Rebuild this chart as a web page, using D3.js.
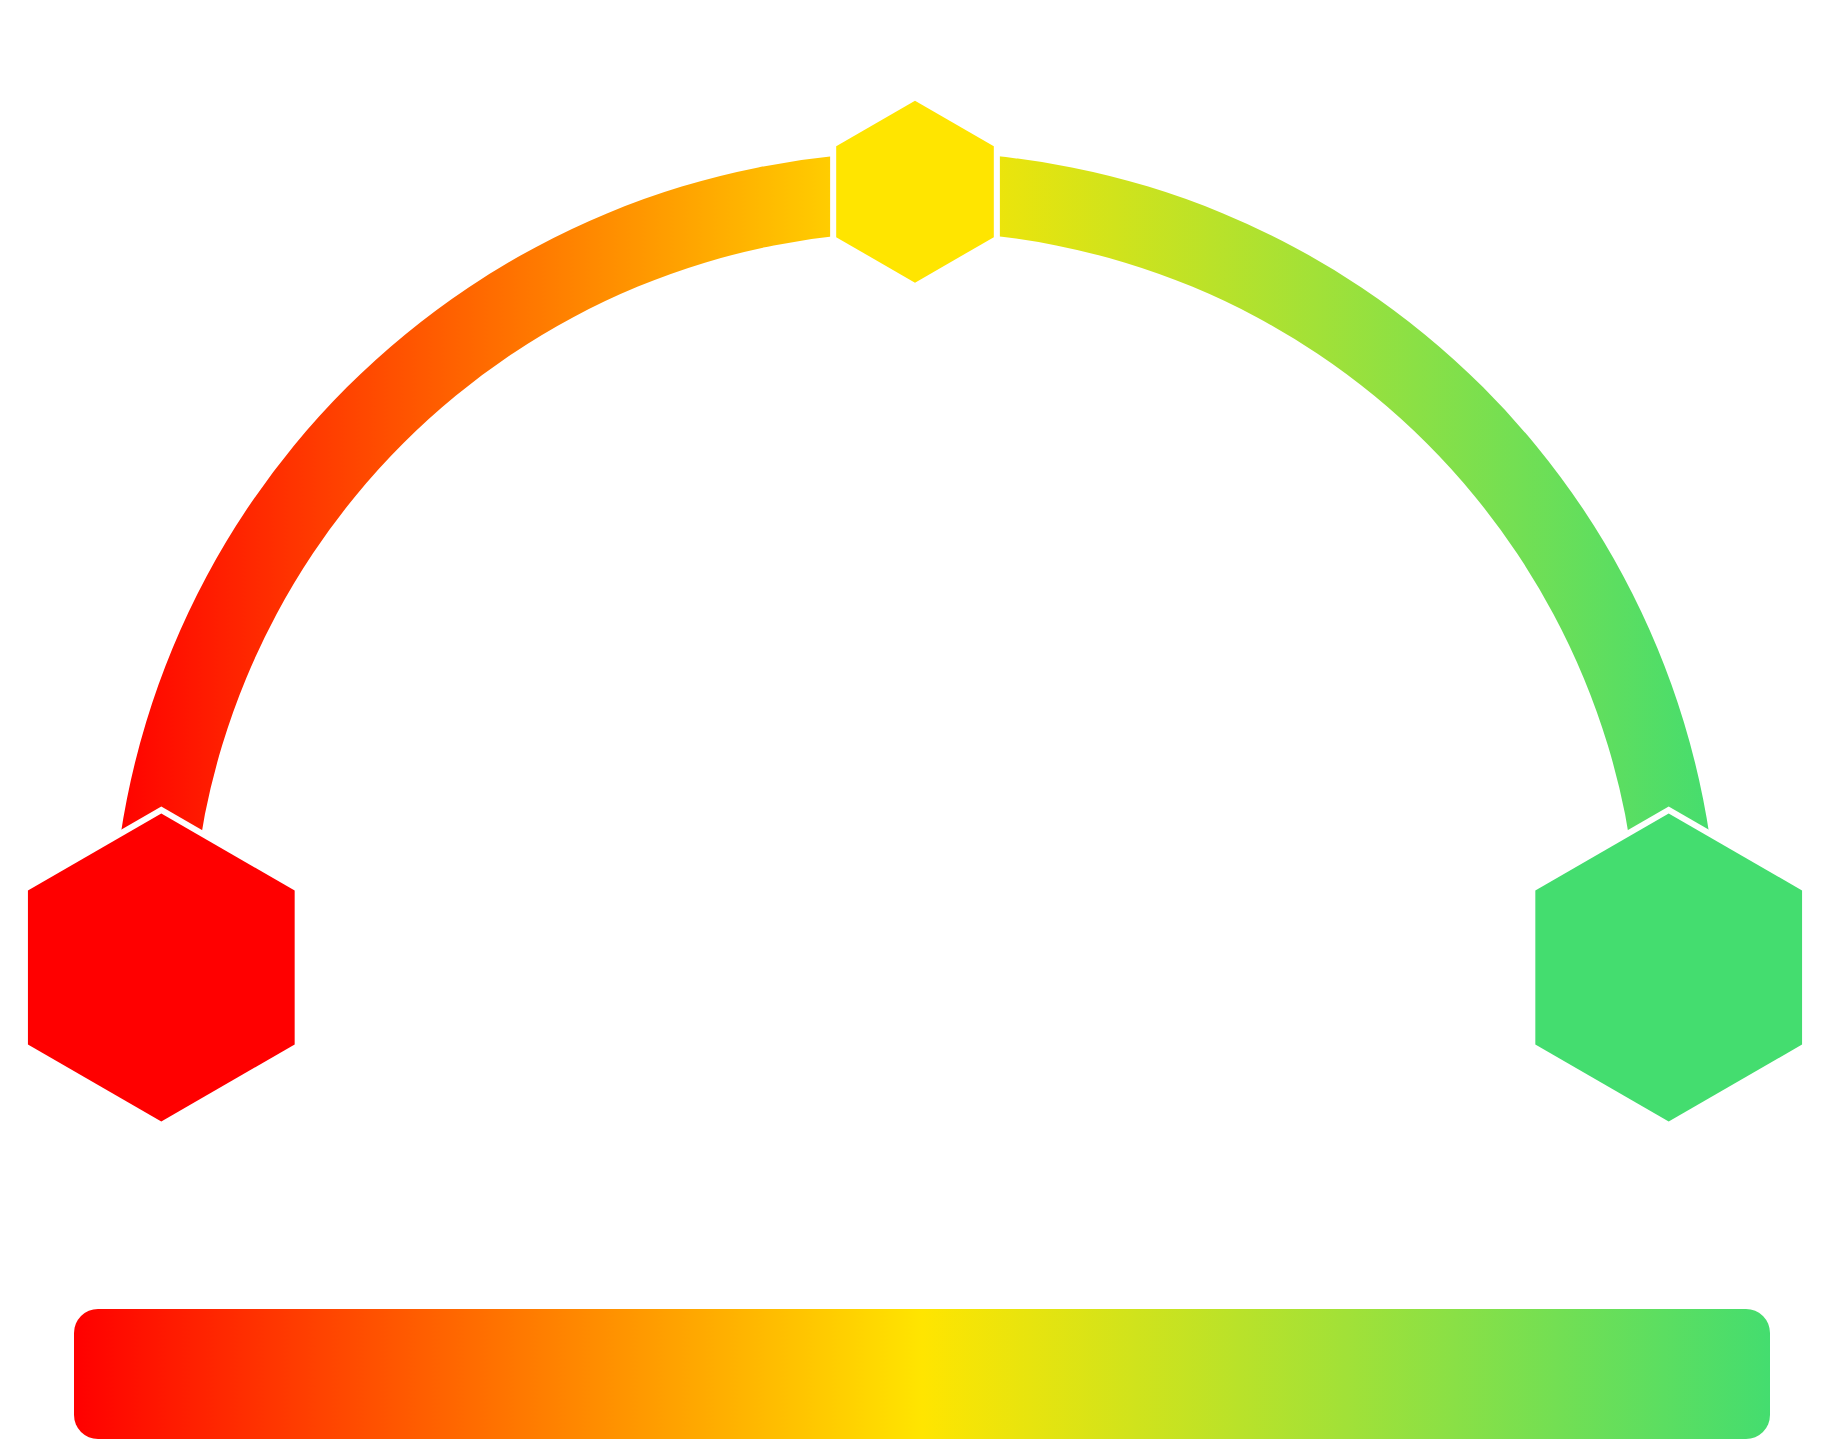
<!DOCTYPE html>
<html>
<head>
<meta charset="utf-8">
<script src="https://cdn.jsdelivr.net/npm/d3@7"></script>
<style>
  body { margin: 0; background: #fff; }
  svg { display: block; }
</style>
</head>
<body>
<div id="chart"></div>
<script>
// gauge levels
const levels = ['Low', 'Medium', 'High'];
const level_values = [0, 50, 100];
const level_colors = ['#ff0000', '#ffe500', '#44dd6f'];
// gradient stops along the scale
const stop_offsets = [0, 50, 100];

const svg_width = 1830,
  svg_height = 1439;

const cx = 915,
  arc_cy = 955.5,
  outer_r = 803.5,
  inner_r = 724;

let svg = d3.select('#chart')
  .append('svg')
  .attr('width', svg_width)
  .attr('height', svg_height);

const defs = svg.append('defs');

function gradient(id, x1, x2) {
  const g = defs.append('linearGradient')
    .attr('id', id)
    .attr('gradientUnits', 'userSpaceOnUse')
    .attr('x1', x1).attr('y1', 0)
    .attr('x2', x2).attr('y2', 0);
  g.selectAll('stop')
    .data(stop_offsets)
    .enter()
    .append('stop')
    .attr('offset', d => d + '%')
    .attr('stop-color', (d, i) => level_colors[i]);
}

// the arc path is drawn around its own centre, so its gradient is local
gradient('arc_grad', -outer_r, outer_r);
gradient('bar_grad', 74, 1770);

// value -> angle along the half circle
const angle = d3.scaleLinear()
  .domain([0, 100])
  .range([-Math.PI / 2, Math.PI / 2]);

// hexagon size grows away from the middle value
const hex_size = d3.scaleLinear()
  .domain([0, 50])
  .range([91, 154]);

const arc = d3.arc()
  .innerRadius(inner_r)
  .outerRadius(outer_r)
  .startAngle(angle(0))
  .endAngle(angle(100));

svg.append('path')
  .attr('transform', 'translate(' + cx + ',' + arc_cy + ')')
  .attr('d', arc())
  .attr('fill', 'url(#arc_grad)');

function hexagon(r) {
  const pts = d3.range(6).map(function (i) {
    const a = Math.PI / 3 * i;
    return [r * Math.sin(a), -r * Math.cos(a)];
  });
  return d3.line()(pts) + 'Z';
}

// hexagon centres sit on an ellipse around the gauge
const hex_cy = 967.5,
  hex_rx = 753.7,
  hex_ry = 775.8;

const hex = svg.append('g')
  .selectAll('g')
  .data(level_values)
  .enter()
  .append('g')
  .attr('transform', function (d) {
    const a = angle(d);
    return 'translate(' + (cx + hex_rx * Math.sin(a)) + ',' + (hex_cy - hex_ry * Math.cos(a)) + ')';
  });

hex.append('path')
  .attr('d', d => hexagon(hex_size(Math.abs(d - 50)) + 7))
  .attr('fill', '#fff');

hex.append('path')
  .attr('d', d => hexagon(hex_size(Math.abs(d - 50))))
  .attr('fill', (d, i) => level_colors[i]);

// colour scale bar
const x_scale = d3.scaleLinear()
  .domain([0, 100])
  .range([74, 1770]);

svg.append('rect')
  .attr('x', x_scale(0))
  .attr('y', 1309)
  .attr('width', x_scale(100) - x_scale(0))
  .attr('height', 130)
  .attr('rx', 24)
  .attr('ry', 24)
  .attr('fill', 'url(#bar_grad)');
</script>
</body>
</html>
